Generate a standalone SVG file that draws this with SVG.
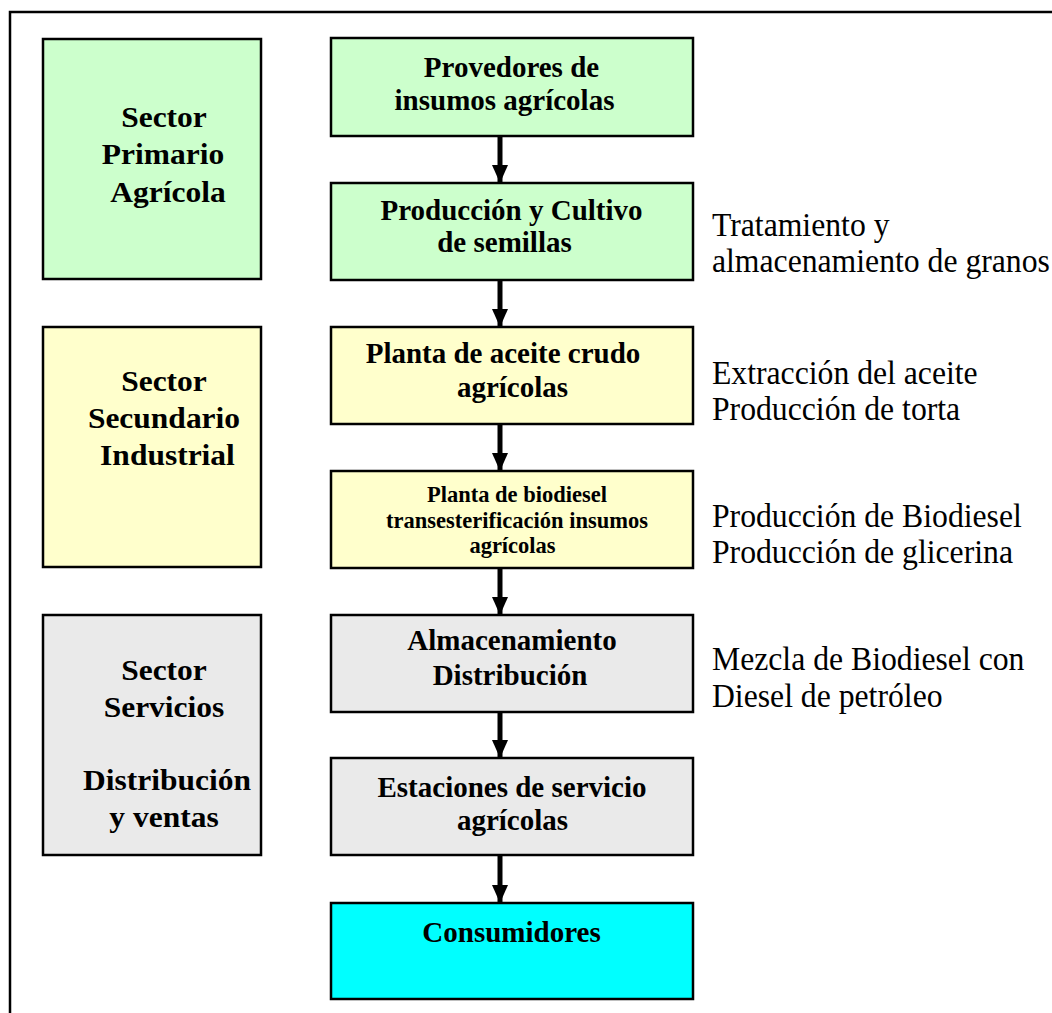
<svg xmlns="http://www.w3.org/2000/svg" width="1052" height="1013" viewBox="0 0 1052 1013">
<defs>
<style>
.box{stroke:#000;stroke-width:2.5}
.g{fill:#CCFFCC}.y{fill:#FFFFCC}.s{fill:#EAEAEA}.c{fill:#00FFFF}
.sec{font-family:"Liberation Serif","Times New Roman",serif;font-weight:bold;font-size:31.5px;text-anchor:middle;fill:#000}
.t{font-family:"Liberation Serif","Times New Roman",serif;font-weight:bold;font-size:29px;text-anchor:middle;fill:#000}
.ts{font-family:"Liberation Serif","Times New Roman",serif;font-weight:bold;font-size:22.5px;text-anchor:middle;fill:#000}
.r{font-family:"Liberation Serif","Times New Roman",serif;font-size:31.7px;fill:#000}
.conn line{stroke:#000;stroke-width:5}
</style>
<marker id="arr" viewBox="0 0 18 16" refX="18" refY="8" markerWidth="18" markerHeight="16" markerUnits="userSpaceOnUse" orient="auto">
<path d="M0,0 L18,8 L0,16 Z" fill="#000"/>
</marker>
</defs>
<rect x="0" y="0" width="1052" height="1013" fill="#fff"/>
<rect id="frame" x="10" y="12" width="1100" height="1100" fill="none" stroke="#000" stroke-width="2.5"/>

<g id="sector-primario">
<rect class="box g" x="43" y="39" width="218" height="240"/>
<text class="sec" x="164" y="0" transform="translate(0,127) scale(1,0.93)">Sector</text>
<text class="sec" x="163" y="0" transform="translate(0,164) scale(1,0.93)">Primario</text>
<text class="sec" x="168" y="0" transform="translate(0,202) scale(1,0.93)">Agrícola</text>
</g>
<g id="sector-secundario">
<rect class="box y" x="43" y="327" width="218" height="240"/>
<text class="sec" x="164" y="0" transform="translate(0,391) scale(1,0.93)">Sector</text>
<text class="sec" x="164" y="0" transform="translate(0,428) scale(1,0.93)">Secundario</text>
<text class="sec" x="167.5" y="0" transform="translate(0,465) scale(1,0.93)">Industrial</text>
</g>
<g id="sector-servicios">
<rect class="box s" x="43" y="615" width="218" height="240"/>
<text class="sec" x="164" y="0" transform="translate(0,680) scale(1,0.93)">Sector</text>
<text class="sec" x="164" y="0" transform="translate(0,717) scale(1,0.93)">Servicios</text>
<text class="sec" x="167" y="0" transform="translate(0,790) scale(1,0.93)">Distribución</text>
<text class="sec" x="164" y="0" transform="translate(0,827) scale(1,0.93)">y ventas</text>
</g>

<g id="provedores">
<rect class="box g" x="331" y="38" width="362" height="98"/>
<text class="t" x="511.5" y="77">Provedores de</text>
<text class="t" x="504.5" y="110">insumos agrícolas</text>
</g>
<g id="produccion">
<rect class="box g" x="331" y="183" width="362" height="97"/>
<text class="t" x="511.5" y="220">Producción y Cultivo</text>
<text class="t" x="504.5" y="252">de semillas</text>
</g>
<g id="planta-aceite">
<rect class="box y" x="331" y="327" width="362" height="97"/>
<text class="t" x="503" y="363">Planta de aceite crudo</text>
<text class="t" x="512.5" y="397">agrícolas</text>
</g>
<g id="planta-biodiesel">
<rect class="box y" x="331" y="471" width="362" height="97"/>
<text class="ts" x="517" y="502">Planta de biodiesel</text>
<text class="ts" x="517" y="528">transesterificación insumos</text>
<text class="ts" x="512.5" y="553">agrícolas</text>
</g>
<g id="almacenamiento">
<rect class="box s" x="331" y="615" width="362" height="97"/>
<text class="t" x="512" y="650">Almacenamiento</text>
<text class="t" x="510" y="685">Distribución</text>
</g>
<g id="estaciones">
<rect class="box s" x="331" y="758" width="362" height="97"/>
<text class="t" x="512" y="797">Estaciones de servicio</text>
<text class="t" x="512.5" y="830">agrícolas</text>
</g>
<g id="consumidores">
<rect class="box c" x="331" y="903" width="362" height="96"/>
<text class="t" x="511.5" y="942">Consumidores</text>
</g>

<g id="notes">
<text class="r" x="712" y="0" transform="translate(0,236) scale(1,1.06)">Tratamiento y</text>
<text class="r" x="712" y="0" transform="translate(0,272) scale(1,1.06)">almacenamiento de granos</text>
<text class="r" x="712" y="0" transform="translate(0,384) scale(1,1.06)">Extracción del aceite</text>
<text class="r" x="712" y="0" transform="translate(0,420) scale(1,1.06)">Producción de torta</text>
<text class="r" x="712" y="0" transform="translate(0,527) scale(1,1.06)">Producción de Biodiesel</text>
<text class="r" x="712" y="0" transform="translate(0,563) scale(1,1.06)">Producción de glicerina</text>
<text class="r" x="712" y="0" transform="translate(0,670) scale(1,1.06)">Mezcla de Biodiesel con</text>
<text class="r" x="712" y="0" transform="translate(0,707) scale(1,1.06)">Diesel de petróleo</text>
</g>

<g id="connectors" class="conn">
<line x1="500" y1="136" x2="500" y2="183" marker-end="url(#arr)"/>
<line x1="500" y1="280" x2="500" y2="327" marker-end="url(#arr)"/>
<line x1="500" y1="424" x2="500" y2="471" marker-end="url(#arr)"/>
<line x1="500" y1="568" x2="500" y2="615" marker-end="url(#arr)"/>
<line x1="500" y1="712" x2="500" y2="758" marker-end="url(#arr)"/>
<line x1="500" y1="855" x2="500" y2="903" marker-end="url(#arr)"/>
</g>
</svg>
